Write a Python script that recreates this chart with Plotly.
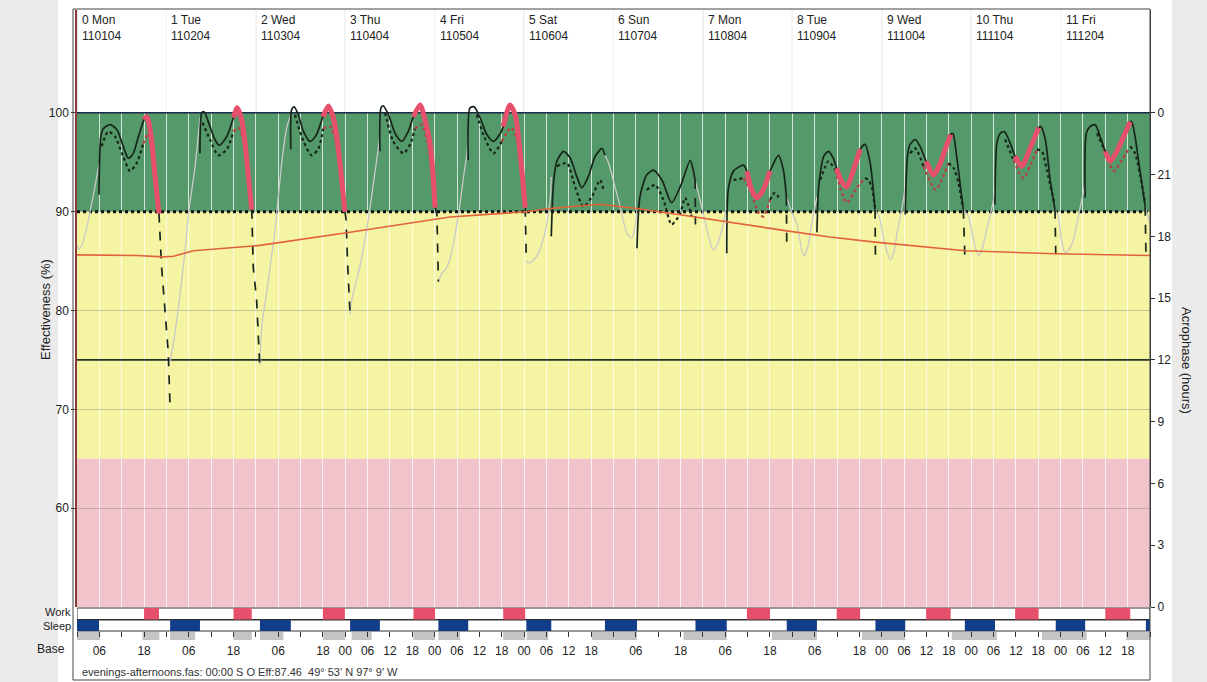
import plotly.graph_objects as go

# ---------------------------------------------------------------- canvas
W, H = 1207, 682


def fx(p):
    return p / W


def fy(p):
    return 1 - p / H


X_DOMAIN = [fx(77), fx(1150)]
Y_DOMAIN = [fy(607), fy(10)]
HOURS_RANGE = [0, 288]
EFF_RANGE = [50, 110.4]
ACRO_RANGE = [0, 28.99]

# ---------------------------------------------------------------- data
DAY_NAMES = ["Mon", "Tue", "Wed", "Thu", "Fri", "Sat", "Sun",
             "Mon", "Tue", "Wed", "Thu", "Fri"]
DAY_DATES = ["110104", "110204", "110304", "110404", "110504", "110604",
             "110704", "110804", "110904", "111004", "111104", "111204"]

EFF_TICKS = [60, 70, 80, 90, 100]
ACRO_TICKS = [0, 3, 6, 9, 12, 15, 18, 21, 24]
ACRO_TICK_TEXT = ["0", "3", "6", "9", "12", "15", "18", "21", "0"]

# effectiveness zones (lower, upper)
ZONE_GREEN = (90, 100)
ZONE_YELLOW = (65, 90)
ZONE_PINK = (50, 65)
CRITERION_LINE = 90
LOW_LINE = 75

# work and sleep intervals, hours from start
WORK = [(18.0, 22.0), (42.0, 46.9), (66.0, 71.9), (90.3, 96.1), (114.4, 120.3),
        (179.8, 186.0), (203.9, 210.2), (227.9, 234.5), (251.8, 258.1), (276.0, 282.7)]
SLEEP = [(0.0, 5.9), (25.0, 33.0), (49.1, 57.4), (73.3, 81.3), (97.0, 105.0),
         (120.6, 127.3), (141.7, 150.3), (166.0, 174.4), (190.5, 198.6),
         (214.3, 222.3), (238.3, 246.4), (262.7, 270.6), (286.9, 288.0)]
BASE = [(0.0, 6.2), (17.6, 22.1), (25.0, 31.7), (42.0, 46.9), (49.1, 55.4),
        (66.1, 71.9), (73.7, 79.1), (90.3, 96.1), (97.0, 102.8), (114.4, 120.3),
        (120.7, 126.5), (138.2, 150.3), (162.8, 174.4), (186.5, 198.6),
        (210.7, 222.3), (234.8, 246.9), (259.0, 271.0), (281.6, 288.0)]

BASE_TICK_HOURS = [6, 18, 30, 42, 54, 66, 72, 78, 84, 90, 96, 102, 108, 114, 120,
                   126, 132, 138, 150, 162, 174, 186, 198, 210, 216, 222, 228,
                   234, 240, 246, 252, 258, 264, 270, 276, 282]
BASE_TICK_TEXT = ["06", "18", "06", "18", "06", "18", "00", "06", "12", "18", "00",
                  "06", "12", "18", "00", "06", "12", "18", "06", "18", "06", "18",
                  "06", "18", "00", "06", "12", "18", "00", "06", "12", "18", "00",
                  "06", "12", "18"]

# effectiveness while awake (solid)
AWAKE_T = [
    [5.9, 6.4, 7.1, 8.9, 10.7, 12.4, 13.8, 15.1, 16.5, 18.0, 18.7, 19.1, 20.0, 20.7, 21.4, 22.0],
    [33.0, 33.5, 34.1, 35.7, 37.0, 38.2, 40.2, 42.0, 43.0, 44.2, 45.1, 46.0, 46.9],
    [57.4, 57.6, 58.3, 59.4, 60.8, 62.6, 64.3, 66.0, 67.5, 68.8, 69.9, 70.8, 71.9],
    [81.3, 81.6, 82.2, 83.6, 85.4, 87.2, 88.9, 90.3, 92.1, 93.4, 94.8, 95.7, 96.1],
    [105.0, 105.5, 106.6, 108.2, 110.0, 111.8, 113.6, 114.4, 116.2, 117.6, 118.7, 119.6, 120.3],
    [127.3, 127.9, 128.8, 130.6, 132.4, 134.1, 135.5, 137.3, 139.1, 140.9, 141.7],
    [150.3, 151.1, 152.9, 154.7, 157.0, 159.6, 161.9, 164.6, 165.4, 165.9],
    [174.4, 174.8, 176.2, 178.9, 179.8, 181.1, 182.5, 184.2, 186.0, 188.3, 189.6, 190.4],
    [198.6, 199.0, 199.5, 200.4, 201.7, 203.0, 203.9, 205.3, 206.6, 208.4, 210.2, 211.5, 212.9, 214.2],
    [222.3, 222.9, 223.6, 225.0, 226.3, 227.9, 229.9, 231.7, 233.5, 234.5, 235.1, 236.1, 237.0, 237.9],
    [246.4, 246.9, 247.8, 248.9, 250.5, 251.8, 253.6, 255.8, 258.1, 258.7, 259.9, 261.2, 262.5],
    [270.6, 270.9, 271.9, 273.3, 274.6, 276.0, 277.3, 279.1, 280.9, 282.7, 283.1, 284.0, 284.9, 286.7],
]
AWAKE_E = [
    [91.7, 97.6, 98.4, 98.8, 98.3, 96.6, 95.4, 95.9, 97.6, 99.3, 99.6, 99.3, 97.3, 94.6, 91.9, 89.8],
    [95.9, 100.0, 100.1, 98.6, 97.3, 96.7, 97.6, 99.5, 100.5, 99.3, 96.9, 93.6, 90.2],
    [96.3, 100.3, 100.6, 99.8, 98.1, 97.1, 97.8, 99.6, 100.7, 99.5, 97.1, 94.1, 90.0],
    [96.1, 100.5, 100.7, 99.8, 97.9, 97.1, 98.1, 99.6, 100.8, 99.3, 96.8, 93.0, 90.4],
    [95.2, 100.5, 100.6, 99.5, 97.8, 97.1, 97.9, 98.6, 100.8, 99.8, 96.8, 93.4, 90.4],
    [87.5, 92.9, 95.1, 96.1, 95.4, 93.6, 92.4, 93.6, 95.6, 96.4, 95.7],
    [86.3, 91.5, 93.7, 94.2, 93.2, 90.9, 92.5, 95.2, 94.2, 93.2],
    [85.8, 92.2, 94.1, 94.7, 94.1, 92.2, 91.4, 92.2, 94.1, 95.7, 94.2, 91.5],
    [87.9, 92.2, 93.9, 95.6, 96.1, 95.4, 94.4, 93.0, 92.5, 94.2, 96.3, 96.8, 94.9, 90.2],
    [89.7, 95.6, 96.8, 97.3, 96.6, 95.1, 93.7, 94.9, 96.8, 97.8, 97.9, 95.6, 92.9, 90.2],
    [90.7, 96.9, 97.9, 98.1, 96.9, 95.6, 94.6, 96.4, 98.5, 98.6, 97.3, 93.2, 90.2],
    [91.4, 97.9, 98.6, 98.8, 97.6, 96.1, 95.1, 96.1, 97.6, 99.1, 99.1, 97.6, 95.2, 90.5],
]

# secondary (dotted) effectiveness while awake
DOTTED_T = [
    [6.6, 8.4, 10.2, 12.4, 14.2, 16.0, 17.8, 19.1, 20.0, 21.0, 21.8],
    [33.7, 35.7, 37.9, 40.2, 42.0, 43.3, 44.5, 45.6, 46.8],
    [58.5, 60.8, 63.0, 64.8, 66.1, 67.9, 69.2, 70.5, 71.8],
    [82.7, 84.9, 87.6, 89.4, 90.7, 92.5, 93.8, 95.0, 96.0],
    [107.3, 109.5, 111.8, 114.0, 116.5, 117.9, 119.0, 120.1],
    [128.8, 131.5, 133.7, 135.9, 138.2, 140.4, 141.3],
    [152.9, 155.2, 157.4, 159.6, 161.9, 163.2, 165.0],
    [176.2, 178.9, 180.7, 182.9, 184.2, 186.0, 187.3, 188.7],
    [199.5, 201.7, 203.5, 205.3, 206.6, 208.9, 211.5, 212.4, 213.3, 214.2],
    [223.6, 225.0, 227.2, 230.4, 232.1, 233.9, 235.3, 236.6, 237.7],
    [249.1, 251.4, 254.0, 255.8, 257.7, 259.0, 260.3, 262.3],
    [273.8, 275.6, 278.3, 280.4, 282.7, 284.0, 285.4, 286.7],
]
DOTTED_E = [
    [96.6, 98.1, 97.6, 95.6, 94.1, 94.9, 96.9, 97.9, 96.0, 92.5, 90.0],
    [99.0, 97.3, 95.7, 96.3, 98.1, 98.5, 97.5, 94.5, 90.5],
    [99.8, 97.1, 95.7, 96.4, 98.4, 98.6, 97.4, 94.5, 90.5],
    [100.0, 97.1, 95.9, 96.8, 98.4, 98.8, 97.5, 94.5, 90.6],
    [99.8, 97.4, 95.9, 97.1, 98.5, 97.5, 94.5, 90.6],
    [94.6, 94.9, 92.5, 90.5, 91.5, 93.2, 92.2],
    [92.2, 92.7, 91.2, 88.7, 89.8, 91.4, 89.5],
    [93.2, 93.4, 92.2, 89.9, 89.5, 91.2, 91.9, 91.2],
    [93.2, 95.1, 94.2, 91.9, 90.9, 92.2, 93.4, 93.2, 92.5, 90.4],
    [95.9, 96.4, 94.6, 92.2, 93.2, 94.9, 94.4, 92.9, 90.5],
    [97.3, 95.2, 93.4, 94.6, 96.3, 96.1, 94.2, 90.9],
    [97.9, 96.4, 94.1, 95.2, 96.6, 95.9, 93.6, 90.9],
]

# fall-off between end of duty and sleep onset
DROP_T = [
    [22.0, 22.7, 23.6, 24.5, 25.0],
    [46.9, 47.3, 48.2, 48.9, 49.1],
    [71.9, 72.2, 72.6, 73.0, 73.3],
    [96.1, 96.6, 96.8, 97.0],
    [120.3, 120.6],
    [165.9, 166.0],
    [190.4, 190.5],
    [214.2, 214.3],
    [237.9, 238.3],
    [262.5, 262.7],
    [286.7, 286.9],
]
DROP_E = [
    [89.8, 84.4, 80.1, 75.7, 70.0],
    [90.2, 84.4, 81.1, 76.0, 74.0],
    [90.0, 89.3, 85.0, 81.6, 79.6],
    [90.4, 89.7, 86.3, 82.9],
    [90.4, 85.0],
    [93.2, 88.7],
    [91.5, 86.8],
    [90.2, 85.6],
    [90.2, 85.5],
    [90.2, 85.7],
    [90.5, 85.9],
]

# effectiveness during sleep
SLEEP_T = [
    [0.0, 0.5, 1.3, 2.5, 3.5, 4.8, 5.9],
    [25.0, 26.3, 27.7, 29.0, 29.9, 31.7, 33.0],
    [49.1, 49.6, 50.9, 52.7, 53.2, 55.0, 56.3, 57.4],
    [73.3, 73.7, 75.0, 76.0, 77.8, 79.5, 80.9, 81.3],
    [97.0, 98.0, 99.2, 100.3, 101.5, 102.7, 103.7, 104.6, 105.0],
    [120.6, 121.5, 123.4, 125.0, 126.1, 127.0, 127.3],
    [141.7, 142.6, 144.4, 145.8, 147.6, 148.9, 149.8, 150.3],
    [165.9, 167.2, 168.1, 169.5, 170.8, 172.0, 173.1, 174.4],
    [190.4, 191.8, 193.2, 195.0, 196.2, 197.2, 198.6],
    [214.2, 215.3, 216.8, 218.3, 219.2, 220.1, 221.8, 222.3],
    [237.9, 239.3, 240.7, 242.0, 243.0, 244.2, 246.0, 246.4],
    [262.5, 263.4, 264.2, 265.2, 266.3, 267.4, 269.3, 270.6],
    [286.7, 288.0],
]
SLEEP_E = [
    [86.6, 86.2, 86.6, 88.2, 90.0, 92.5, 94.8],
    [74.8, 77.7, 81.8, 86.1, 89.7, 94.6, 99.5],
    [74.5, 78.4, 81.8, 86.8, 88.3, 95.1, 98.5, 99.8],
    [79.6, 81.0, 83.0, 84.6, 88.3, 92.7, 96.5, 97.8],
    [83.0, 83.8, 84.3, 85.5, 87.7, 90.5, 93.4, 95.7, 97.5],
    [85.0, 84.8, 85.5, 87.0, 88.8, 91.2, 93.5],
    [95.7, 95.0, 92.5, 90.5, 87.8, 87.3, 88.5, 90.2],
    [93.2, 91.2, 89.8, 87.5, 86.1, 86.8, 88.2, 90.5],
    [91.5, 90.0, 88.8, 85.5, 86.5, 88.8, 91.5],
    [90.2, 89.5, 86.8, 85.1, 85.8, 87.8, 91.2, 92.5],
    [90.2, 89.5, 87.0, 85.5, 86.3, 88.2, 91.2, 92.5],
    [90.2, 89.5, 87.2, 85.8, 86.2, 87.1, 90.5, 92.8],
    [90.5, 88.8],
]

# circadian acrophase (hours, right axis)
ACRO_T = [0, 6.2, 16.0, 23.2, 25.9, 31.2, 49.1, 73.3, 96.6, 100.1, 120.3, 127.0,
          140.4, 150.3, 162.8, 174.2, 189.6, 202.1, 214.2, 238.4, 262.5, 288]
ACRO_V = [17.1, 17.1, 17.07, 17.0, 17.03, 17.3, 17.56, 18.2, 18.86, 18.94, 19.19, 19.35,
          19.56, 19.35, 19.02, 18.7, 18.29, 17.97, 17.72, 17.3, 17.15, 17.07]

FOOTER = "evenings-afternoons.fas: 00:00 S O Eff:87.46  49\u00b0 53' N 97\u00b0 9' W"

# ---------------------------------------------------------------- styles
FONT = "Liberation Sans, Arial, sans-serif"
C_GREEN = "#54996a"
C_YELLOW = "#f5f4a2"
C_PINK = "#f1c4cc"
C_BLACK = "#17261a"
C_WORK = "#e6506c"
C_SLEEP = "#123d8a"
C_GRAY = "#c9c9c9"
C_ACRO = "#e2623a"

fig = go.Figure()


def in_work(t):
    return any(ws <= t <= we for ws, we in WORK)


def split_pairs(ts, es):
    """Split a polyline into runs lying inside / outside work periods."""
    runs = []
    for i in range(len(ts) - 1):
        flag = in_work((ts[i] + ts[i + 1]) / 2)
        if runs and runs[-1][0] == flag:
            runs[-1][1].append(ts[i + 1])
            runs[-1][2].append(es[i + 1])
        else:
            runs.append([flag, [ts[i], ts[i + 1]], [es[i], es[i + 1]]])
    return runs


def add_line(x, y, color, width, dash="solid", shape="spline", yaxis="y"):
    fig.add_trace(go.Scatter(
        x=x, y=y, mode="lines", yaxis=yaxis, hoverinfo="skip", showlegend=False,
        line=dict(color=color, width=width, dash=dash, shape=shape,
                  smoothing=0.7 if shape == "spline" else None),
    ))


# acrophase
add_line(ACRO_T, ACRO_V, C_ACRO, 1.6, shape="linear", yaxis="y2")

# sleep-time effectiveness
for ts, es in zip(SLEEP_T, SLEEP_E):
    add_line(ts, es, C_GRAY, 1.3)

# dotted curve, red-brown during duty
for ts, es in zip(DOTTED_T, DOTTED_E):
    for flag, rx, ry in split_pairs(ts, es):
        add_line(rx, ry, "#b8403f" if flag else C_BLACK, 2.2, dash="dot")

# solid effectiveness
for ts, es in zip(AWAKE_T, AWAKE_E):
    add_line(ts, es, C_BLACK, 1.7)

# fall-off to sleep
for ts, es in zip(DROP_T, DROP_E):
    add_line(ts, es, C_BLACK, 1.7, dash="dash", shape="linear")

# duty overlay
for ts, es in zip(AWAKE_T, AWAKE_E):
    for flag, rx, ry in split_pairs(ts, es):
        if flag:
            add_line(rx, ry, C_WORK, 5)

# ---------------------------------------------------------------- shapes
shapes = []
for (lo, hi), col in ((ZONE_GREEN, C_GREEN), (ZONE_YELLOW, C_YELLOW), (ZONE_PINK, C_PINK)):
    shapes.append(dict(type="rect", xref="x", yref="y", x0=HOURS_RANGE[0], x1=HOURS_RANGE[1],
                       y0=lo, y1=hi, fillcolor=col, line=dict(width=0), layer="below"))

# day boundaries in the header strip
for d in range(len(DAY_NAMES)):
    shapes.append(dict(type="line", xref="x", yref="y", x0=d * 24, x1=d * 24,
                       y0=ZONE_GREEN[1], y1=EFF_RANGE[1],
                       line=dict(color="#cfcfcf", width=1), layer="below"))

shapes += [
    dict(type="line", xref="x", yref="y", x0=0, x1=288, y0=ZONE_GREEN[1], y1=ZONE_GREEN[1],
         line=dict(color="#1d2c48", width=1.6), layer="between"),
    dict(type="line", xref="x", yref="y", x0=0, x1=288, y0=CRITERION_LINE, y1=CRITERION_LINE,
         line=dict(color="#111111", width=3, dash="dot"), layer="between"),
    dict(type="line", xref="x", yref="y", x0=0, x1=288, y0=LOW_LINE, y1=LOW_LINE,
         line=dict(color="#243424", width=1.6), layer="between"),
]

# work / sleep / base rows
ROW_WORK = (fy(619.5), fy(608))
ROW_SLEEP = (fy(631), fy(620))
ROW_BASE = (fy(640), fy(632))
for y0, y1 in (ROW_WORK, ROW_SLEEP):
    shapes.append(dict(type="rect", xref="x", yref="paper", x0=0, x1=288, y0=y0, y1=y1,
                       fillcolor="white", line=dict(color="#333333", width=1)))
for ws, we in WORK:
    shapes.append(dict(type="rect", xref="x", yref="paper", x0=ws, x1=we,
                       y0=ROW_WORK[0], y1=ROW_WORK[1], fillcolor=C_WORK, line=dict(width=0)))
for ss, se in SLEEP:
    shapes.append(dict(type="rect", xref="x", yref="paper", x0=ss, x1=se,
                       y0=ROW_SLEEP[0], y1=ROW_SLEEP[1], fillcolor=C_SLEEP, line=dict(width=0)))
for bs, be in BASE:
    shapes.append(dict(type="rect", xref="x", yref="paper", x0=bs, x1=be,
                       y0=ROW_BASE[0], y1=ROW_BASE[1], fillcolor="#c4c4c4", line=dict(width=0),
                       layer="below"))

# page margins and frame
shapes += [
    dict(type="rect", xref="paper", yref="paper", x0=0, x1=fx(58), y0=0, y1=1,
         fillcolor="#ebebeb", line=dict(width=0), layer="below"),
    dict(type="rect", xref="paper", yref="paper", x0=fx(1172), x1=1, y0=0, y1=1,
         fillcolor="#ebebeb", line=dict(width=0), layer="below"),
    dict(type="rect", xref="paper", yref="paper", x0=fx(73), x1=fx(1150), y0=fy(680), y1=fy(9),
         fillcolor="rgba(0,0,0,0)", line=dict(color="#444444", width=1)),
]

# ---------------------------------------------------------------- annotations
def label(xp, yp, text, size=12, xanchor="center", angle=0, color="#222"):
    return dict(x=fx(xp), y=fy(yp), xref="paper", yref="paper", text=text,
                xanchor=xanchor, yanchor="middle", textangle=angle, showarrow=False,
                font=dict(family=FONT, size=size, color=color))


ann = []
for d, (nm, dt) in enumerate(zip(DAY_NAMES, DAY_DATES)):
    ann.append(dict(x=d * 24 + 0.8, y=fy(11), xref="x", yref="paper", xanchor="left",
                    yanchor="top", showarrow=False, align="left",
                    text=f"{d} {nm}<br>{dt}", font=dict(family=FONT, size=12, color="#222")))
ann += [
    label(45, 310, "Effectiveness (%)", size=13, angle=-90),
    label(1187, 360, "Acrophase (hours)", size=13, angle=90),
    label(73, 612, "Work", size=11, xanchor="right"),
    label(73, 625.5, "Sleep", size=11, xanchor="right"),
    label(67, 649, "Base", xanchor="right"),
    label(80, 672, FOOTER, size=11, xanchor="left", color="#333"),
]

base_vals = list(range(0, 289, 6))
base_text = [""] * len(base_vals)
for h, t in zip(BASE_TICK_HOURS, BASE_TICK_TEXT):
    base_text[base_vals.index(h)] = t

fig.update_layout(
    width=W, height=H, margin=dict(l=0, r=0, t=0, b=0, pad=0, autoexpand=False),
    autosize=False,
    paper_bgcolor="white", plot_bgcolor="white",
    font=dict(family=FONT, size=12, color="#222"),
    shapes=shapes, annotations=ann,
    xaxis=dict(domain=X_DOMAIN, range=HOURS_RANGE, showticklabels=False, ticks="",
               tick0=0, dtick=6, showgrid=True, gridcolor="rgba(255,255,255,0.75)",
               gridwidth=1, zeroline=False, fixedrange=True, automargin=False),
    xaxis2=dict(overlaying="x", anchor="free", position=fy(631), side="bottom",
                range=HOURS_RANGE, tickmode="array", tickvals=base_vals, ticktext=base_text,
                ticks="outside", ticklen=5, tickcolor="#333", showgrid=False,
                zeroline=False, showline=False, ticklabelstandoff=4, automargin=False,
                tickfont=dict(family=FONT, size=12, color="#222")),
    yaxis=dict(domain=Y_DOMAIN, range=EFF_RANGE, tickmode="array", tickvals=EFF_TICKS,
               ticks="outside", ticklen=4, tickcolor="#333", showgrid=True,
               gridcolor="rgba(140,140,130,0.45)", zeroline=False, showline=True,
               linecolor="#8a3a3a", linewidth=1.5, fixedrange=True, automargin=False,
               tickfont=dict(family=FONT, size=12, color="#222")),
    yaxis2=dict(overlaying="y", side="right", anchor="x", range=ACRO_RANGE,
                tickmode="array", tickvals=ACRO_TICKS, ticktext=ACRO_TICK_TEXT,
                ticks="outside", ticklen=4, tickcolor="#333", showgrid=False,
                zeroline=False, showline=True, linecolor="#333", linewidth=1.2,
                automargin=False, tickfont=dict(family=FONT, size=12, color="#222")),
)

# empty trace so the base axis is rendered
fig.add_trace(go.Scatter(x=[None], y=[None], xaxis="x2", yaxis="y", showlegend=False,
                         hoverinfo="skip"))

fig.write_html("out.html", config={"responsive": False})
